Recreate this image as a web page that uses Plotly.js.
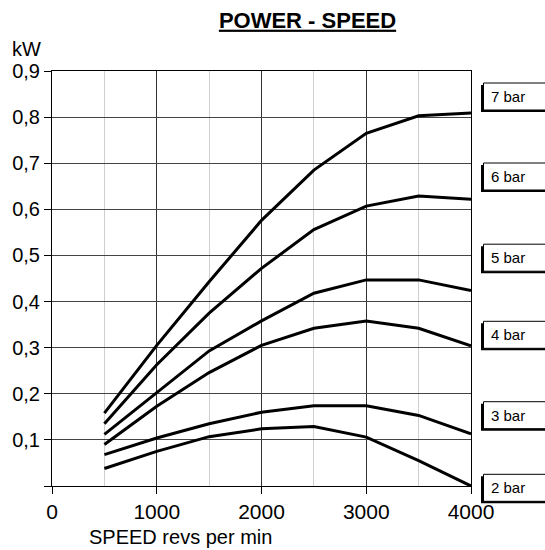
<!DOCTYPE html>
<html>
<head>
<meta charset="utf-8">
<script src="https://cdn.plot.ly/plotly-3.0.1.min.js"></script>
<style>html,body{margin:0;padding:0;background:#fff;}#chart{width:545px;height:550px;}</style>
</head>
<body>
<div id="chart"></div>
<script>
// ---- data ----
const speed = [500, 1000, 1500, 2000, 2500, 3000, 3500, 4000];
const bar7 = [0.158, 0.305, 0.443, 0.576, 0.685, 0.765, 0.803, 0.809];
const bar6 = [0.135, 0.263, 0.375, 0.472, 0.556, 0.607, 0.629, 0.622];
const bar5 = [0.112, 0.203, 0.293, 0.358, 0.418, 0.447, 0.447, 0.424];
const bar4 = [0.090, 0.173, 0.246, 0.305, 0.342, 0.358, 0.342, 0.304];
const bar3 = [0.068, 0.104, 0.135, 0.160, 0.174, 0.174, 0.153, 0.113];
const bar2 = [0.038, 0.075, 0.107, 0.124, 0.129, 0.106, 0.055, 0.000];
const seriesNames = ['7 bar', '6 bar', '5 bar', '4 bar', '3 bar', '2 bar'];
const seriesValues = [bar7, bar6, bar5, bar4, bar3, bar2];
const xTickVals = [0, 1000, 2000, 3000, 4000];
const xTickText = ['0', '1000', '2000', '3000', '4000'];
const yTickVals = [0, 0.1, 0.2, 0.3, 0.4, 0.5, 0.6, 0.7, 0.8, 0.9];
const yTickText = ['', '0,1', '0,2', '0,3', '0,4', '0,5', '0,6', '0,7', '0,8', '0,9'];

// ---- layout geometry (pixels) ----
const W = 545, H = 550;
const M = {l: 52, r: 74, t: 71, b: 64};
const PW = W - M.l - M.r, PH = H - M.t - M.b;
const px2x = px => (px - M.l) / PW;
const py2y = py => (H - M.b - py) / PH;
// vertical centres of the label boxes, in pixels from top
const labelCentres = [96.5, 176.5, 257.7, 334.8, 415.2, 487.8];

const FONT = 'Liberation Sans, Arial, sans-serif';

const traces = seriesValues.map((vals, i) => ({
  x: speed, y: vals, type: 'scatter', mode: 'lines', name: seriesNames[i],
  line: {color: '#000', width: 3}, hoverinfo: 'skip', cliponaxis: false
}));

const shapes = [];
const annotations = [];
seriesNames.forEach((name, i) => {
  const c = labelCentres[i];
  // shadow (offset left / down)
  shapes.push({
    type: 'rect', xref: 'paper', yref: 'paper', layer: 'above',
    x0: px2x(481), x1: px2x(560), y0: py2y(c + 15.5), y1: py2y(c - 11.5),
    fillcolor: '#000', line: {width: 0}
  });
  // box
  shapes.push({
    type: 'rect', xref: 'paper', yref: 'paper', layer: 'above',
    x0: px2x(483.5), x1: px2x(560), y0: py2y(c + 13.5), y1: py2y(c - 13.5),
    fillcolor: '#fff', line: {color: '#000', width: 1}
  });
  annotations.push({
    xref: 'paper', yref: 'paper', x: px2x(488.5), y: py2y(c),
    xanchor: 'left', yanchor: 'middle', align: 'left',
    text: name, showarrow: false,
    font: {family: FONT, size: 15, color: '#000'}
  });
});
annotations.push({
  xref: 'paper', yref: 'paper', x: px2x(26), y: py2y(49), xanchor: 'center', yanchor: 'middle',
  text: 'kW', showarrow: false, font: {family: FONT, size: 20, color: '#000'}
});
annotations.push({
  xref: 'paper', yref: 'paper', x: px2x(180), y: py2y(536.5), xanchor: 'center', yanchor: 'middle',
  text: 'SPEED revs per min', showarrow: false, font: {family: FONT, size: 20, color: '#000'}
});

const layout = {
  width: W, height: H,
  margin: {l: M.l, r: M.r, t: M.t, b: M.b, pad: 0},
  paper_bgcolor: '#fff', plot_bgcolor: '#fff',
  showlegend: false,
  font: {family: FONT, color: '#000'},
  title: {
    text: '<b><u>POWER - SPEED</u></b>',
    x: 307.5 / W, xref: 'container', xanchor: 'center',
    y: 1 - 20 / H, yref: 'container', yanchor: 'middle',
    font: {family: FONT, size: 22, color: '#000'}
  },
  xaxis: {
    range: [0, 4000], tickvals: xTickVals, ticktext: xTickText,
    ticks: 'outside', ticklen: 7, tickwidth: 1, tickcolor: '#000',
    showline: true, linecolor: '#000', linewidth: 1, mirror: true,
    showgrid: true, gridcolor: '#333', gridwidth: 1, zeroline: false,
    tickfont: {family: FONT, size: 21, color: '#000'},
    minor: {dtick: 500, tick0: 0, showgrid: true, gridcolor: '#cfcfcf', gridwidth: 1, ticks: ''},
    fixedrange: true
  },
  yaxis: {
    range: [0, 0.9], tickvals: yTickVals, ticktext: yTickText,
    ticks: 'outside', ticklen: 7, tickwidth: 1, tickcolor: '#000',
    showline: true, linecolor: '#000', linewidth: 1, mirror: true,
    showgrid: true, gridcolor: '#444', gridwidth: 1, zeroline: false,
    tickfont: {family: FONT, size: 20, color: '#000'},
    fixedrange: true
  },
  shapes: shapes,
  annotations: annotations
};

Plotly.newPlot('chart', traces, layout, {displayModeBar: false, staticPlot: true});
</script>
</body>
</html>
